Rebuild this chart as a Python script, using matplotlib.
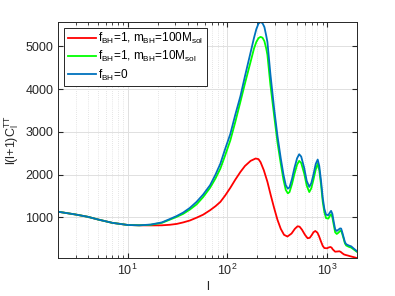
import numpy as np
import matplotlib
matplotlib.use("Agg")
import matplotlib.pyplot as plt
from matplotlib.ticker import LogLocator, NullFormatter

plt.rcParams['font.family'] = ['Liberation Sans', 'DejaVu Sans']
plt.rcParams['mathtext.fontset'] = 'custom'
plt.rcParams['mathtext.rm'] = 'Liberation Sans'
plt.rcParams['mathtext.it'] = 'Liberation Sans'

# multipoles and l(l+1)C_l
ell_bg = [2, 3, 4, 5, 7, 10, 13, 17, 22, 26.5, 31, 36, 42, 49, 57, 67, 76, 85, 95, 107,
          120, 135, 150, 171, 185, 195, 205, 215, 225, 235, 245, 252, 270, 294, 318, 343,
          365, 385, 404, 420, 445, 470, 500, 525, 550, 590, 625, 663, 695, 730, 770, 805,
          835, 870, 905, 939, 977, 1030, 1065, 1097, 1130, 1165, 1205, 1250, 1300, 1350,
          1384, 1420, 1470, 1510, 1555, 1650, 1747, 1870, 2000]
cl_blue = [1130, 1065, 1010, 950, 870, 820, 812, 830, 880, 960, 1030, 1110, 1220, 1360,
           1530, 1750, 2000, 2255, 2600, 2950, 3400, 3830, 4300, 4860, 5200, 5400, 5530,
           5570, 5540, 5450, 5250, 5100, 4350, 3550, 2900, 2380, 2000, 1750, 1670, 1700,
           1900, 2150, 2380, 2475, 2420, 2150, 1850, 1710, 1800, 2000, 2250, 2350, 2200,
           1850, 1450, 1200, 1060, 1050, 1110, 1150, 1080, 900, 720, 680, 710, 740, 735,
           650, 520, 420, 370, 340, 320, 260, 205]
cl_green = [1130, 1065, 1010, 950, 870, 820, 812, 825, 870, 945, 1010, 1080, 1180, 1300,
            1470, 1690, 1910, 2140, 2450, 2800, 3230, 3700, 4130, 4640, 4950, 5100, 5190,
            5220, 5200, 5120, 4950, 4800, 4100, 3390, 2750, 2255, 1880, 1640, 1560, 1590,
            1780, 2010, 2230, 2320, 2270, 2020, 1740, 1590, 1680, 1880, 2120, 2250, 2100,
            1760, 1360, 1120, 980, 970, 1030, 1070, 1000, 830, 650, 610, 640, 680, 690,
            610, 490, 390, 340, 310, 290, 240, 190]

ell_red = [2, 3, 4, 5, 7, 10, 13, 17, 22, 26.5, 31, 36, 42, 49, 57, 67, 76, 85, 95, 107,
           120, 135, 150, 171, 192, 205, 215, 232, 252, 272, 294, 318, 343, 370, 400, 440,
           475, 506, 530, 560, 600, 638, 670, 700, 730, 762, 800, 830, 870, 905, 939, 1000,
           1040, 1080, 1110, 1140, 1205, 1270, 1332, 1380, 1420, 1480, 1555, 1618, 1700,
           1800, 1900, 2000]
cl_red = [1130, 1065, 1010, 950, 870, 820, 812, 810, 812, 825, 845, 880, 925, 990, 1060,
          1165, 1260, 1360, 1510, 1690, 1880, 2060, 2200, 2320, 2375, 2360, 2290, 2100,
          1830, 1520, 1220, 940, 730, 590, 550, 620, 730, 790, 780, 710, 590, 510, 520,
          580, 650, 680, 640, 560, 430, 330, 280, 275, 295, 305, 290, 250, 195, 200, 205,
          185, 160, 130, 115, 105, 90, 75, 60, 45]

labels = [r'$\mathregular{f_{BH}}$=1, $\mathregular{m_{BH}}$=100$\mathregular{M_{sol}}$',
          r'$\mathregular{f_{BH}}$=1, $\mathregular{m_{BH}}$=10$\mathregular{M_{sol}}$',
          r'$\mathregular{f_{BH}}$=0']

fig = plt.figure(figsize=(3.95, 2.96), dpi=100)
ax = fig.add_axes([0.147, 0.128, 0.757, 0.798])

ax.semilogx(ell_red, cl_red, color=(1, 0, 0), lw=1.3, label=labels[0])
ax.semilogx(ell_bg, cl_green, color=(0, 1, 0), lw=1.3, label=labels[1])
ax.semilogx(ell_bg, cl_blue, color=(0, 0.447, 0.741), lw=1.3, label=labels[2])

ax.set_xlim(2, 2000)
ax.set_ylim(min(cl_red), max(cl_blue))
ax.set_yticks([1000, 2000, 3000, 4000, 5000])
ax.xaxis.set_minor_locator(LogLocator(base=10, subs=np.arange(2, 10)))
ax.xaxis.set_minor_formatter(NullFormatter())

ax.grid(True, which='major', color='0.88', lw=0.7)
ax.grid(True, which='minor', axis='x', color='0.8', lw=0.5, ls=(0, (1, 2)))
ax.set_axisbelow(True)

ax.tick_params(which='both', direction='in', top=True, right=True, colors='0.15',
               labelsize=9)
ax.tick_params(which='major', length=3.5)
ax.tick_params(which='minor', length=2)
for s in ax.spines.values():
    s.set_color('0.15')
    s.set_linewidth(0.7)

ax.set_xlabel('l', fontsize=9, color='0.15', labelpad=2)
ax.set_ylabel(r'l(l+1)$\mathregular{C_l^{TT}}$', fontsize=9, color='0.15', labelpad=3)

leg = ax.legend(loc='upper left', fontsize=8.5, frameon=True, fancybox=False,
                edgecolor='0.15', framealpha=1, handlelength=2.4, handletextpad=0.2,
                labelspacing=0.25, borderpad=0.3, borderaxespad=0.5)
leg.get_frame().set_linewidth(0.7)

fig.savefig('out.png', dpi=100)
